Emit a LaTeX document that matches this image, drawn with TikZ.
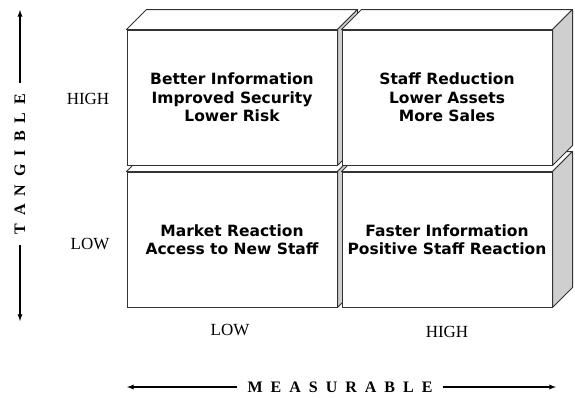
\documentclass[tikz,border=0pt]{standalone}
\usepackage{fontspec}
\setmainfont{Liberation Serif}
\newfontfamily\cellfont{DejaVu Sans}
\usetikzlibrary{positioning,calc}
\definecolor{sidegray}{HTML}{CFCFCF}
\definecolor{edge}{HTML}{333333}
\newcommand{\lsp}{\hspace{8pt}}
% one block: front node, then its top and side faces
\newcommand{\block}[3]{%
    \path (#1) node[cell] (#2) {#3};
    \draw[topface] (#2.north west) -- ++(20,-20) -- ($(#2.north east)+(20,-20)$) -- (#2.north east) -- cycle;
    \draw[sideface] (#2.north east) -- ++(20,-20) -- ($(#2.south east)+(20,-20)$) -- (#2.south east) -- cycle;
}

\begin{document}
\begin{tikzpicture}[x=1pt,y=-1pt,>=latex,
    cell/.style={rectangle,draw=edge,fill=white,line width=1pt,minimum width=210pt,minimum height=135pt,inner sep=0pt,align=center,font=\cellfont\bfseries\fontsize{15.5}{18.5}\selectfont},
    topface/.style={draw=edge,fill=white,line width=1pt,line join=round},
    sideface/.style={draw=edge,fill=sidegray,line width=1pt,line join=round},
    level/.style={font=\fontsize{17}{20}\selectfont},
    axis/.style={font=\bfseries\fontsize{16}{19}\selectfont},
    arrow/.style={->,line width=1.3pt},]
    \useasboundingbox (0,0) rectangle (575,397);

    % bottom row first, so the top row covers it
    \block{232,239.5}{ll}{Market Reaction\\Access to New Staff}
    \block{447,239.5}{hl}{Faster Information\\Positive Staff Reaction}
    \block{232,97.5}{lh}{Better Information\\Improved Security\\Lower Risk}
    \block{447,97.5}{hh}{Staff Reduction\\Lower Assets\\More Sales}

    % level labels
    \node[level] (yhigh) at (88,99) {HIGH};
    \node[level] (ylow) at (90,244) {LOW};
    \node[level] (xlow) at (230,330) {LOW};
    \node[level] (xhigh) at (447,332) {HIGH};

    % axes
    \node[axis,rotate=90] (tangible) at (20,164) {T\lsp A\lsp N\lsp G\lsp I\lsp B\lsp L\lsp E};
    \coordinate (ytop) at (20,10);
    \coordinate (ybot) at (20,321);
    \draw[arrow] (tangible.east) ++(0,-7) -- (ytop);
    \draw[arrow] (tangible.west) ++(0,7) -- (ybot);

    \node[axis] (measurable) at (340,387) {M\lsp E\lsp A\lsp S\lsp U\lsp R\lsp A\lsp B\lsp L\lsp E};
    \coordinate (xleft) at (127,387);
    \coordinate (xright) at (556,387);
    \draw[arrow] (measurable.west) ++(-7,0) -- (xleft);
    \draw[arrow] (measurable.east) ++(7,0) -- (xright);
\end{tikzpicture}
\end{document}
